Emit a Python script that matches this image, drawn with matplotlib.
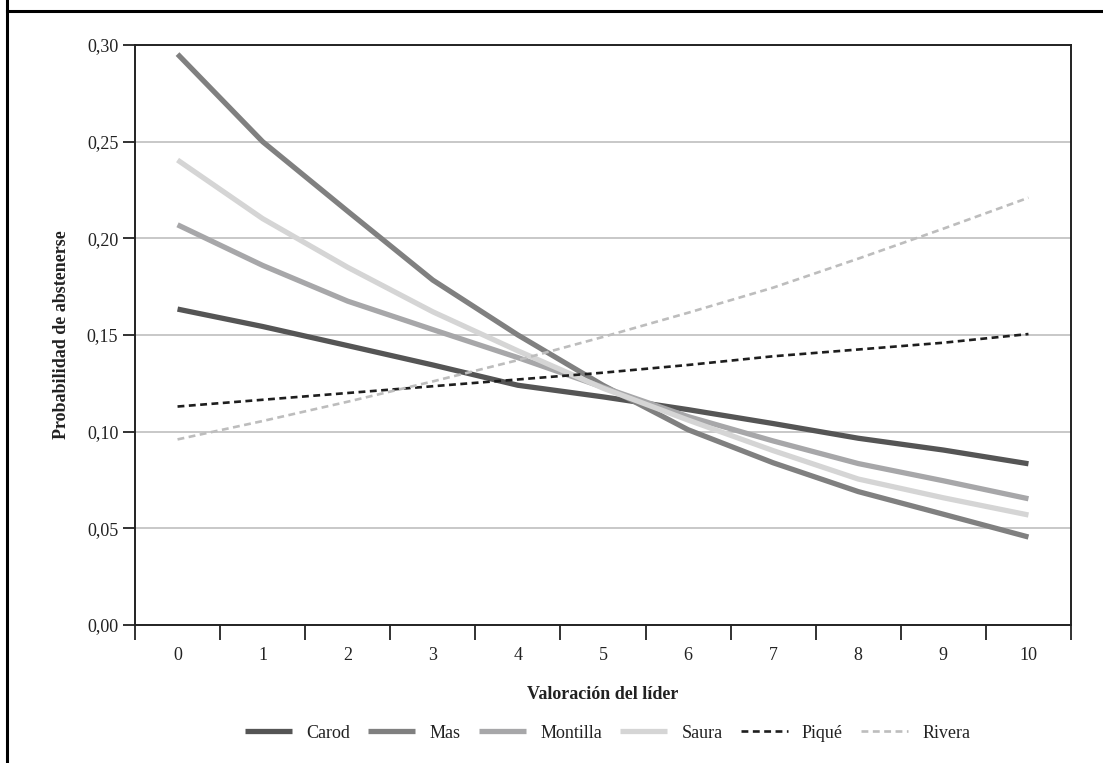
import matplotlib
matplotlib.use("Agg")
import matplotlib.pyplot as plt
from matplotlib.lines import Line2D

# ---- data ----
valoracion = [0, 1, 2, 3, 4, 5, 6, 7, 8, 9, 10]
carod    = [0.1634, 0.1544, 0.1445, 0.1345, 0.1240, 0.1180, 0.1114, 0.1042, 0.0966, 0.0905, 0.0834]
mas      = [0.2953, 0.2500, 0.2140, 0.1784, 0.1500, 0.1240, 0.1010, 0.0839, 0.0690, 0.0573, 0.0455]
montilla = [0.2070, 0.1860, 0.1675, 0.1528, 0.1383, 0.1230, 0.1078, 0.0952, 0.0835, 0.0746, 0.0653]
saura    = [0.2405, 0.2102, 0.1850, 0.1620, 0.1418, 0.1225, 0.1060, 0.0902, 0.0755, 0.0658, 0.0569]
pique    = [0.1130, 0.1165, 0.1200, 0.1235, 0.1270, 0.1305, 0.1345, 0.1390, 0.1425, 0.1460, 0.1505]
rivera   = [0.0960, 0.1055, 0.1155, 0.1260, 0.1370, 0.1490, 0.1615, 0.1745, 0.1895, 0.2050, 0.2210]
y_ticks = [0.00, 0.05, 0.10, 0.15, 0.20, 0.25, 0.30]
y_tick_labels = ["0,00", "0,05", "0,10", "0,15", "0,20", "0,25", "0,30"]
x_labels = ["0", "1", "2", "3", "4", "5", "6", "7", "8", "9", "10"]

plt.rcParams['font.family'] = ['Liberation Serif', 'DejaVu Serif']

fig = plt.figure(figsize=(11.03, 7.63), dpi=100)
ax = fig.add_axes([135/1103, 1 - 625/763, (1071-135)/1103, (625-45)/763])

series = [
    ("Carod", carod, dict(color="#555555", lw=3.8, ls="-")),
    ("Mas", mas, dict(color="#808080", lw=3.8, ls="-")),
    ("Montilla", montilla, dict(color="#a7a7a9", lw=3.8, ls="-")),
    ("Saura", saura, dict(color="#d5d5d5", lw=3.8, ls="-")),
    ("Piqué", pique, dict(color="#1e1e1e", lw=1.9, ls=(0, (2.6, 1.7)))),
    ("Rivera", rivera, dict(color="#bdbdbd", lw=1.9, ls=(0, (2.6, 1.7)))),
]
for name, vals, st in series:
    ax.plot(valoracion, vals, label=name, solid_capstyle="butt", dash_capstyle="butt", **st)

ax.set_xlim(-0.5, 10.5)
ax.set_ylim(0, 0.30)
ax.set_yticks(y_ticks)
ax.set_yticklabels(y_tick_labels)
ax.yaxis.grid(True, color="#c4c4c4", lw=1.3)
ax.set_axisbelow(True)

# category axis: boundary ticks, labels at centres
ax.set_xticks([v - 0.5 for v in valoracion] + [10.5])
ax.set_xticklabels([])
ax.set_xticks(valoracion, minor=True)
ax.set_xticklabels(x_labels, minor=True)
ax.tick_params(axis="x", which="major", length=11, width=1.3, color="#222222", direction="out")
ax.tick_params(axis="x", which="minor", length=0, pad=16, labelsize=13, labelcolor="#222222")
ax.tick_params(axis="y", length=9, width=1.3, color="#222222", labelsize=13, labelcolor="#222222", pad=3)

for side in ["left", "bottom", "top", "right"]:
    ax.spines[side].set_color("#222222")
    ax.spines[side].set_linewidth(1.4)

ax.set_xlabel("Valoración del líder", fontsize=13, fontweight="bold", color="#222222", labelpad=16)
ax.set_ylabel("Probabilidad de abstenerse", fontsize=13, fontweight="bold", color="#222222", labelpad=12)

leg = fig.legend(loc="center", bbox_to_anchor=(0.551, 1 - 733/763), ncol=6, frameon=False,
                 fontsize=13, handlelength=2.6, columnspacing=1.0, handletextpad=0.8)
for t in leg.get_texts():
    t.set_color("#222222")

# outer frame lines (left and top)
fig.add_artist(Line2D([7/1103, 7/1103], [0, 1], transform=fig.transFigure, color="black", lw=2.2))
fig.add_artist(Line2D([7/1103, 1], [1 - 11/763, 1 - 11/763], transform=fig.transFigure, color="black", lw=2.2))

fig.savefig("out.png", dpi=100)
